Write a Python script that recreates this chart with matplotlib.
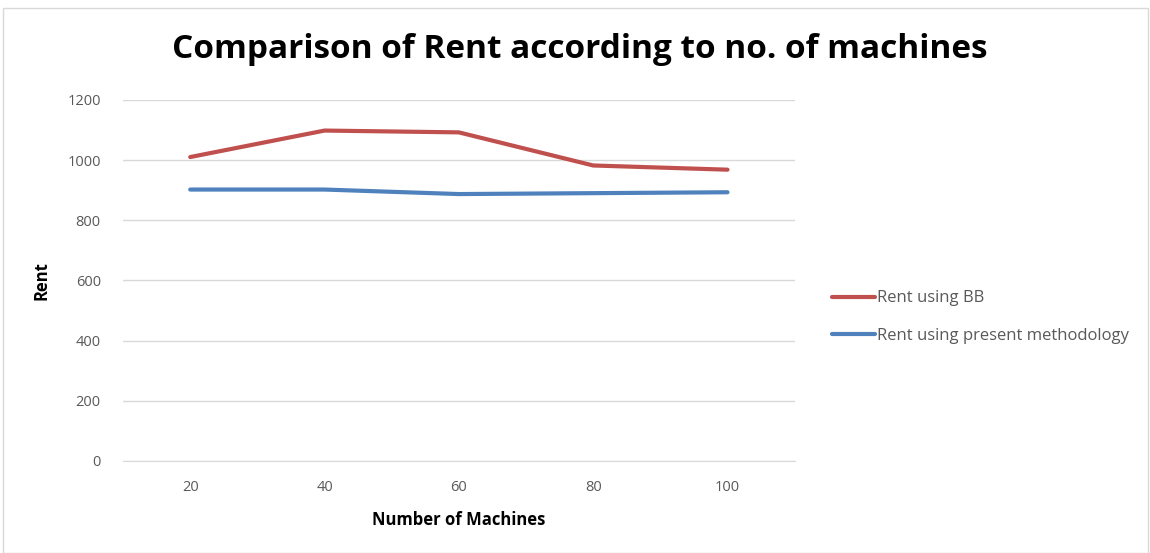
import matplotlib
matplotlib.use("Agg")
import matplotlib.pyplot as plt
from matplotlib.patches import Rectangle

machines = ["20", "40", "60", "80", "100"]
rent_bb = [1010, 1098, 1092, 982, 968]
rent_present = [902, 902, 887, 890, 893]
y_ticks = [0, 200, 400, 600, 800, 1000, 1200]

plt.rcParams["font.family"] = ["Open Sans", "DejaVu Sans"]

fig = plt.figure(figsize=(11.5, 5.53), dpi=100)
ax = fig.add_axes([0.107, 0.1664, 0.584, 0.653])

x = list(range(len(machines)))
ax.plot(x, rent_bb, color="#c0504d", lw=3, solid_capstyle="round", label="Rent using BB")
ax.plot(x, rent_present, color="#4f81bd", lw=3, solid_capstyle="round",
        label="Rent using present methodology")

ax.set_xlim(-0.5, len(machines) - 0.5)
ax.set_ylim(0, 1200)
ax.set_yticks(y_ticks)
ax.set_xticks(x)
ax.set_xticklabels(machines)
ax.grid(axis="y", color="#d9d9d9", lw=1)
ax.set_axisbelow(True)
for s in ["top", "right", "left"]:
    ax.spines[s].set_visible(False)
ax.spines["bottom"].set_color("#d9d9d9")
ax.tick_params(length=0, labelsize=10.5, labelcolor="#595959", pad=16)
ax.tick_params(axis="x", pad=14)

ax.set_ylabel("Rent", fontsize=12, fontweight="bold", labelpad=12)
ax.set_xlabel("Number of Machines", fontsize=12, fontweight="bold", labelpad=11)

fig.text(0.504, 0.91, "Comparison of Rent according to no. of machines",
         ha="center", va="center", fontsize=24, fontweight="bold")

ax.legend(loc="center left", bbox_to_anchor=(1.033, 0.398), frameon=False,
          fontsize=12, labelcolor="#595959", handlelength=2.6, handletextpad=0.1,
          labelspacing=1.3)

fig.patches.append(Rectangle((0.003, 0.0), 0.995, 0.985, transform=fig.transFigure,
                             fill=False, edgecolor="#d9d9d9", lw=1))

fig.savefig("out.png", dpi=100)
